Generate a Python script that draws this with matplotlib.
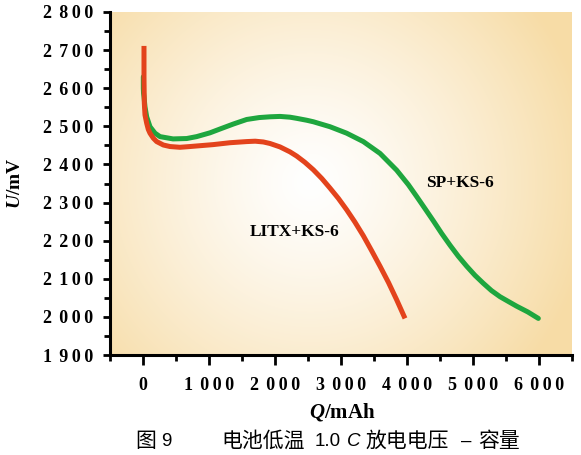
import matplotlib
matplotlib.use("Agg")
import matplotlib.pyplot as plt
import numpy as np
from matplotlib.ticker import MultipleLocator

# LITX+KS-6 (red)
q_litx = [15, 15, 15, 15, 16, 20, 30, 56, 80, 106, 156, 207, 308, 409, 561, 712, 1061, 1318,
          1571, 1700, 1823, 1924, 2076, 2227, 2328, 2450, 2581, 2710, 2833, 2960, 3086, 3210,
          3338, 3460, 3591, 3720, 3843, 3970]
u_litx = [2711, 2680, 2650, 2632, 2614, 2561, 2530, 2508, 2492, 2482, 2469, 2460, 2451, 2447,
          2445, 2447, 2452, 2457, 2460, 2461, 2459, 2455, 2446, 2433, 2422, 2406, 2386, 2363,
          2338, 2311, 2281, 2249, 2213, 2175, 2133, 2090, 2045, 1996]

# SP+KS-6 (green)
q_sp = [5, 5, 8, 15, 30, 56, 106, 182, 258, 455, 662, 813, 1015, 1167, 1368, 1571, 1760, 1924,
        2076, 2227, 2328, 2480, 2581, 2833, 3086, 3338, 3591, 3843, 4020, 4146, 4273, 4399,
        4525, 4652, 4778, 4904, 5030, 5157, 5280, 5409, 5540, 5662, 5830, 5990]
u_sp = [2630, 2600, 2587, 2578, 2551, 2525, 2499, 2482, 2473, 2467, 2468, 2473, 2483, 2493,
        2506, 2518, 2523, 2525, 2526, 2524, 2521, 2516, 2512, 2499, 2482, 2460, 2429, 2385,
        2347, 2316, 2284, 2252, 2219, 2188, 2159, 2133, 2109, 2088, 2069, 2053, 2040, 2028,
        2013, 1996]

xticks = [0, 1000, 2000, 3000, 4000, 5000, 6000]
yticks = [1900, 2000, 2100, 2200, 2300, 2400, 2500, 2600, 2700, 2800]


def spaced(v):
    s = str(v)
    if len(s) < 4:
        return s
    return s[0] + "\u2009\u2009" + "\u2009".join(s[1:])


plt.rcParams["mathtext.fontset"] = "custom"
plt.rcParams["mathtext.it"] = "Liberation Serif:italic:bold"
plt.rcParams["mathtext.rm"] = "Liberation Serif:bold"
plt.rcParams["mathtext.bf"] = "Liberation Serif:bold"

W, H = 581, 455
fig = plt.figure(figsize=(W / 100, H / 100), dpi=100)
ax = fig.add_axes([110 / W, 1 - 355 / H, 462 / W, 343 / H])

# radial background gradient
aw, ah = 462, 343
xx, yy = np.meshgrid(np.arange(aw), np.arange(ah))
d = np.hypot(xx - 200, yy - 170) / 285.0
t = np.clip(d, 0, 1) ** 1.25
edge = np.array([247, 220, 166]) / 255.0
img = (1 - t)[..., None] * np.ones(3) + t[..., None] * edge
ax.imshow(img, extent=[0, 1, 0, 1], transform=ax.transAxes, aspect="auto", zorder=0)

ax.plot(q_litx, u_litx, color="#e3431c", lw=3.6, solid_capstyle="butt",
        solid_joinstyle="round", zorder=3)
ax.plot(q_sp, u_sp, color="#1ea63e", lw=3.6, solid_capstyle="round",
        solid_joinstyle="round", zorder=2)

ax.set_xlim(-500, 6500)
ax.set_ylim(1900, 2800)

ax.xaxis.set_minor_locator(MultipleLocator(500))
ax.yaxis.set_minor_locator(MultipleLocator(50))
ax.tick_params(which="major", direction="out", length=5, width=2, pad=7)
ax.tick_params(axis="x", which="major", length=7, pad=9)
ax.tick_params(which="minor", direction="out", length=4, width=2)

ax.set_xticks(xticks)
ax.set_xticklabels([spaced(v) for v in xticks])
ax.set_yticks(yticks)
ax.set_yticklabels([spaced(v) for v in yticks])
for lab in ax.get_xticklabels() + ax.get_yticklabels():
    lab.set_family(["Liberation Serif", "DejaVu Serif"])
    lab.set_weight("bold")
    lab.set_size(13)

for s in ["top", "right"]:
    ax.spines[s].set_visible(False)
for s in ["left", "bottom"]:
    ax.spines[s].set_linewidth(2.2)

lblfont = dict(family="Liberation Serif", weight="bold", size=12.5)
ax.text(2303, 2222, "LITX+KS-6", ha="center", va="center", **lblfont)
ax.text(4803, 2351, "SP+KS-6", ha="center", va="center", **lblfont)

fig.text(15 / W, 1 - 183 / H, r"$U$/mV", rotation=90, ha="center", va="center",
         family="Liberation Serif", weight="bold", size=14)
fig.text(342 / W, 1 - 412 / H, r"$Q$/mAh", ha="center", va="center",
         family="Liberation Serif", weight="bold", size=15)

# caption
ycap = 1 - 441 / H
cjk = dict(family=["Noto Sans CJK SC", "DejaVu Sans"], size=15, va="center")
lat = dict(family="Liberation Sans", size=13.5, va="center")
fig.text(135 / W, ycap, "图", **cjk)
fig.text(161 / W, ycap, "9", **lat)
fig.text(221 / W, ycap, "电池低温", **cjk)
fig.text(315 / W, ycap, "1.0", **lat)
fig.text(347 / W, ycap, "C", style="italic", **lat)
fig.text(366 / W, ycap, "放电电压", **cjk)
fig.text(461 / W, ycap, "–", **lat)
fig.text(478 / W, ycap, "容量", **cjk)

fig.savefig("out.png", dpi=100)
